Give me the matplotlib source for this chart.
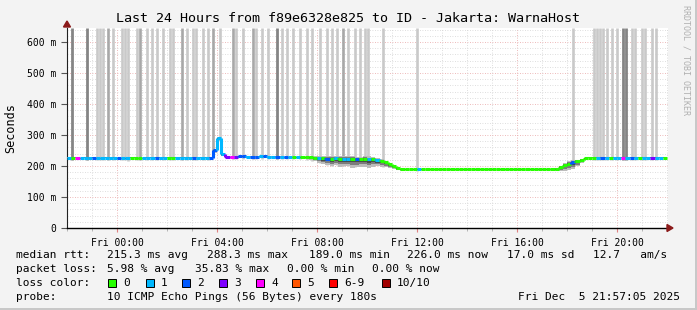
import matplotlib
matplotlib.use("Agg")
import matplotlib.pyplot as plt
import numpy as np
from matplotlib.collections import LineCollection
from matplotlib.patches import Rectangle, Polygon

# one sample every 10 minutes, starting Thu 22:00
STEP_H = 1 / 6

# median rtt per sample (ms)
rtt_ms = [
    227, 227, 227, 226, 227, 227, 227, 226, 226, 227, 227, 227, 226, 226, 226, 227, 227, 226,
    226, 227, 227, 227, 227, 227, 227, 227, 227, 227, 227, 227, 227, 227, 227, 227, 227,
    250, 290, 238,
    228, 229, 230, 231, 231, 230, 230, 230, 231, 231, 230, 230, 230, 230, 229, 229, 229, 228,
    228, 228, 228, 227,
    226, 225, 224, 224, 225, 224, 223, 224, 223, 222, 222, 223, 222, 221, 220, 216, 212, 206,
    200, 194, 189,
    189, 190, 189, 189, 189, 190, 189, 189, 189, 189, 190, 189, 189, 189, 189, 189, 190, 189,
    189, 189, 189, 189, 190, 189, 189, 189, 189, 189, 189, 190, 189, 189, 189, 189, 189, 190,
    191, 196, 203, 208, 212, 215, 220, 225,
    227, 227, 227, 227, 227, 227, 227, 227, 227, 227, 227, 227, 227, 227, 227, 227, 227, 227, 227,
]

# lost pings (of 10) per sample
lost = [
    1, 0, 4, 1, 1, 1, 2, 1, 1, 1, 1, 1, 2, 1, 1, 0, 0, 0, 1, 1, 1, 2, 1, 1, 0, 0, 1, 1, 1, 1,
    2, 1, 1, 1, 2, 2, 1, 1, 3, 4, 3, 2, 2, 1, 2, 2, 1, 2, 1, 1, 2, 1, 2, 1, 0, 1, 0, 0, 0, 0,
    1, 0, 2, 0, 1, 0, 1, 1, 0, 2, 0, 0, 1, 0, 1, 0, 0, 0, 0, 0, 0, 0, 0, 0, 1, 0, 0, 0, 0, 0,
    0, 0, 0, 0, 0, 0, 0, 0, 0, 0, 0, 0, 0, 0, 0, 0, 0, 0, 0, 0, 0, 0, 0, 0, 0, 0, 0, 0, 0, 0,
    0, 2, 0, 0, 0, 0, 0, 1, 2, 1, 0, 1, 1, 4, 1, 2, 1, 0, 1, 1, 3, 1, 1, 0,
]

# spread of the ping smoke around the median (ms)
spread_ms = [
    2, 2, 2, 2, 2, 2, 2, 2, 2, 2, 2, 2, 2, 2, 4, 2, 2, 2, 2, 2, 2, 2, 2, 2, 2, 3, 2, 2, 2, 2,
    2, 2, 2, 2, 2, 6, 6, 5, 2, 2, 2, 2, 2, 2, 2, 2, 2, 2, 2, 2, 2, 2, 2, 2, 2, 2, 3, 4, 6, 8,
    12, 14, 16, 18, 17, 20, 18, 19, 21, 19, 18, 19, 20, 17, 16, 14, 12, 10, 8, 6, 3, 1, 1, 1, 1, 1,
    1, 1, 1, 1, 1, 1, 1, 1, 1, 1, 1, 1, 1, 1, 1, 1, 1, 1, 1, 1, 1, 1, 1, 1, 1, 1, 1, 1, 1, 1,
    2, 5, 10, 14, 16, 15, 12, 8, 4, 2, 2, 2, 3, 2, 2, 2, 2, 2, 2, 2, 2, 2, 2, 2, 2, 2, 2, 2,
]

# samples with lost pings drawn as grey bars (hours since Thu 22:00, lost count)
gap_hours = [
    0.19, 0.79, 1.2, 1.32, 1.44, 1.64, 1.84, 2.2, 2.32, 2.44, 2.8, 2.92, 3.2, 3.4, 3.6, 3.84,
    4.12, 4.24, 4.6, 4.8, 5.04, 5.16, 5.44, 5.64, 5.84, 6.12, 6.64, 6.76, 7.04, 7.44, 7.56,
    7.8, 8.04, 8.4, 8.6, 8.8, 9.04, 9.32, 9.6, 9.8, 10.12, 10.4, 10.6, 10.8, 11.04, 11.24,
    11.52, 11.72, 11.92, 12.04, 12.64, 14.0, 20.24, 21.08, 21.2, 21.32, 21.44, 21.6, 21.8,
    22.0, 22.24, 22.36, 22.6, 22.72, 23.0, 23.12, 23.4, 23.56,
]
gap_lost = [
    4, 4, 1, 1, 1, 2, 1, 1, 1, 1, 1, 2, 1, 1, 1, 1,
    1, 1, 2, 1, 1, 1, 1, 1, 2, 1, 2, 1, 1, 2, 1,
    1, 1, 4, 1, 1, 1, 1, 1, 1, 1, 1, 1, 1, 2, 1,
    1, 1, 1, 1, 1, 1, 1, 1, 1, 1, 1, 1, 1,
    1, 4, 4, 1, 1, 1, 1, 1, 1,
]

xtick_hours = [2, 6, 10, 14, 18, 22]
xtick_labels = ["Fri 00:00", "Fri 04:00", "Fri 08:00", "Fri 12:00", "Fri 16:00", "Fri 20:00"]
ytick_ms = [0, 100, 200, 300, 400, 500, 600]

loss_labels = ["0", "1", "2", "3", "4", "5", "6-9", "10/10"]
loss_colors = ["#26ff00", "#00b8ff", "#0059ff", "#7e00ff", "#ff00ff", "#ff5500", "#ff0000", "#a10000"]

rtt_stats = ["215.3 ms avg", "288.3 ms max", "189.0 ms min", "226.0 ms now", "17.0 ms sd", "12.7   am/s"]
loss_stats = ["5.98 % avg", "35.83 % max", "0.00 % min", "0.00 % now"]
probe_text = "10 ICMP Echo Pings (56 Bytes) every 180s"
stamp_text = "Fri Dec  5 21:57:05 2025"
title = "Last 24 Hours from f89e6328e825 to ID - Jakarta: WarnaHost"

W, H = 697, 310
MONO = "DejaVu Sans Mono"


def loss_color(n):
    if n >= 10:
        return loss_colors[7]
    if n >= 6:
        return loss_colors[6]
    return loss_colors[n]


def fx(px):
    return px / W


def fy(py):
    return 1 - py / H


fig = plt.figure(figsize=(W / 100, H / 100), dpi=100, facecolor="#f3f3f3")
ax = fig.add_axes([fx(67), fy(228), fx(668) - fx(67), fy(28) - fy(228)])
ax.set_facecolor("white")

t = np.arange(len(rtt_ms)) * STEP_H
rtt = np.array(rtt_ms) / 1000.0
spr = np.array(spread_ms) / 1000.0
top = 0.645

# grey bars for samples with packet loss
greys = {1: "#c9c9c9", 2: "#a8a8a8", 4: "#858585"}
for h, n in zip(gap_hours, gap_lost):
    i = min(int(h / STEP_H), len(rtt) - 1)
    ax.vlines(h, rtt[i] - spr[i] - 0.005, top, color=greys[n], lw=1.9 if n < 4 else 2.0, zorder=2)

# smoke
tt = np.append(t, t[-1] + STEP_H)


def band(a, b):
    lo = rtt - spr * a
    hi = rtt + spr * b
    return np.append(lo, lo[-1]), np.append(hi, hi[-1])


lo, hi = band(1.35, 0.45)
ax.fill_between(tt, lo, hi, step="post", color="#bcbcbc", lw=0, zorder=3)
lo, hi = band(0.95, 0.25)
ax.fill_between(tt, lo, hi, step="post", color="#7c7c7c", lw=0, zorder=3)
lo, hi = band(0.55, 0.1)
ax.fill_between(tt, lo, hi, step="post", color="#4a4a4a", lw=0, zorder=3)

# median line coloured by loss
segs, cols = [], []
for i in range(len(rtt)):
    t0 = t[i]
    t1 = t0 + STEP_H
    segs.append([(t0, rtt[i]), (t1, rtt[i])])
    cols.append(loss_color(lost[i]))
    if i + 1 < len(rtt):
        segs.append([(t1, rtt[i]), (t1, rtt[i + 1])])
        cols.append(loss_color(lost[i + 1]))
ax.add_collection(LineCollection(segs, colors=cols, linewidths=2.2, capstyle="butt", zorder=4))

ax.set_xlim(0, 24.04)
ax.set_ylim(0, top)

ax.set_xticks(xtick_hours)
ax.set_xticklabels(xtick_labels, fontfamily=MONO, fontsize=7)
ax.set_xticks(np.arange(0, 25, 1), minor=True)
ax.set_yticks([v / 1000 for v in ytick_ms])
ax.set_yticklabels(["0" if v == 0 else f"{v} m" for v in ytick_ms], fontfamily=MONO, fontsize=7)
ax.set_yticks(np.arange(0, 0.645, 0.02), minor=True)

ax.grid(which="minor", color="#d4d4d4", lw=0.6, ls=(0, (1, 2)))
ax.grid(which="major", color="#e7a3a3", lw=0.6, ls=(0, (1, 2)))
ax.set_axisbelow(True)
ax.tick_params(axis="x", which="major", length=3, color="#e08080", pad=4)
ax.tick_params(axis="x", which="minor", length=2, color="#aaaaaa")
ax.tick_params(axis="y", which="major", length=4, color="#555555", pad=4)
ax.tick_params(axis="y", which="minor", length=0)

for s in ["top", "right"]:
    ax.spines[s].set_visible(False)
ax.spines["left"].set_color("#222222")
ax.spines["bottom"].set_color("#000000")
ax.spines["left"].set_linewidth(0.8)
ax.spines["bottom"].set_linewidth(1.0)

ax.set_ylabel("Seconds", fontfamily=MONO, fontsize=8.5, labelpad=7)

# axis arrows
fig.patches.append(Polygon([(fx(63.5), fy(27)), (fx(70.5), fy(27)), (fx(67), fy(21))],
                           closed=True, transform=fig.transFigure, color="#8b1a1a"))
fig.patches.append(Polygon([(fx(667), fy(224.5)), (fx(667), fy(231.5)), (fx(673), fy(228))],
                           closed=True, transform=fig.transFigure, color="#8b1a1a"))

fig.text(fx(348), fy(19), title, fontfamily=MONO, fontsize=9.6, ha="center", va="center")
fig.text(fx(686), fy(5), "RRDTOOL / TOBI OETIKER", fontfamily=MONO, fontsize=6, color="#b0b0b0",
         rotation=270, ha="center", va="top")

# legend block
fs = 8
row_y = [255, 269, 283, 297]
fig.text(fx(16), fy(row_y[0]), "median rtt:", fontfamily=MONO, fontsize=fs, va="center")
for x, s in zip([107, 207, 309, 407, 507, 593], rtt_stats):
    fig.text(fx(x), fy(row_y[0]), s, fontfamily=MONO, fontsize=fs, va="center")
fig.text(fx(16), fy(row_y[1]), "packet loss:", fontfamily=MONO, fontsize=fs, va="center")
for x, s in zip([107, 195, 287, 372], loss_stats):
    fig.text(fx(x), fy(row_y[1]), s, fontfamily=MONO, fontsize=fs, va="center")
fig.text(fx(16), fy(row_y[2]), "loss color:", fontfamily=MONO, fontsize=fs, va="center")
for x, lab, c in zip([108, 146, 182, 219, 256, 292, 329, 382], loss_labels, loss_colors):
    fig.patches.append(Rectangle((fx(x), fy(row_y[2] + 4)), fx(8), 8 / H, transform=fig.transFigure,
                                 facecolor=c, edgecolor="black", lw=0.7))
    fig.text(fx(x + 15), fy(row_y[2]), lab, fontfamily=MONO, fontsize=fs, va="center")
fig.text(fx(16), fy(row_y[3]), "probe:", fontfamily=MONO, fontsize=fs, va="center")
fig.text(fx(107), fy(row_y[3]), probe_text, fontfamily=MONO, fontsize=fs, va="center")
fig.text(fx(680), fy(row_y[3]), stamp_text, fontfamily=MONO, fontsize=fs, va="center", ha="right")

# 3d-ish frame
fig.patches.append(Rectangle((0, 0), 1, fy(308), transform=fig.transFigure, facecolor="#c8c8c8", lw=0, zorder=-1))
fig.patches.append(Rectangle((fx(695), 0), fx(2), 1, transform=fig.transFigure, facecolor="#c8c8c8", lw=0, zorder=-1))

fig.savefig("out.png", dpi=100, facecolor=fig.get_facecolor())
